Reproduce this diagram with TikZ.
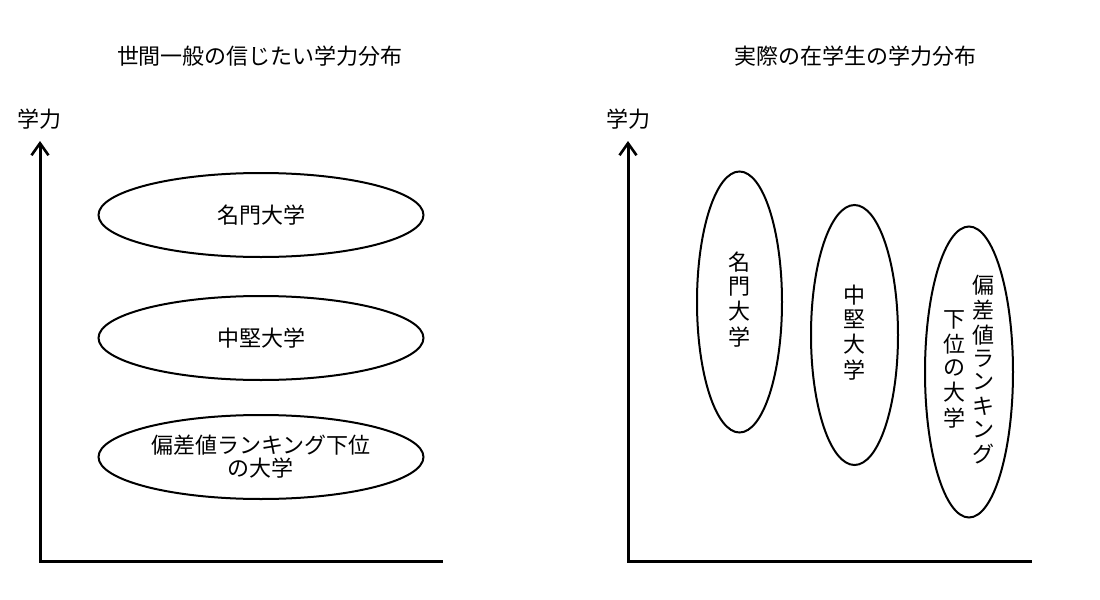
\documentclass[tikz,border=0pt]{standalone}
\usepackage{fontspec}
\setmainfont{Noto Sans CJK JP}
\usetikzlibrary{shapes.geometric}
\usetikzlibrary{arrows.meta}
\usetikzlibrary{positioning}

\newcommand{\tate}[1]{\begin{tabular}{@{}c@{}}#1\end{tabular}}

\begin{document}
\begin{tikzpicture}[x=0.5pt, y=-0.5pt,
  every node/.style={font=\fontsize{11}{11.4}\selectfont, inner sep=0pt},
  uni/.style={ellipse, draw, line width=1pt, minimum width=162.5pt, minimum height=42pt, align=center},
  tuni/.style={ellipse, draw, line width=1pt},
  axis/.style={line width=1.5pt, {Straight Barb[length=6pt, width=8.5pt, line width=1.3pt]}-}]
  \useasboundingbox (0,0) rectangle (1100,600);

  % left: the belief
  \node (ltitle) at (260,56) {世間一般の信じたい学力分布};
  \node (lylabel) at (40,119) {学力};
  \coordinate (ltop) at (40,141);
  \coordinate (lorigin) at (40,561);
  \coordinate (lend) at (443,561);
  \draw[axis] (ltop) -- (lorigin) -- (lend);
  \node[uni] (ltop1) at (261,215) {名門大学};
  \node[uni] (lmid) at (261,338) {中堅大学};
  \node[uni] (llow) at (261,457) {偏差値ランキング下位\\の大学};

  % right: the reality
  \node (rtitle) at (855,56) {実際の在学生の学力分布};
  \node (rylabel) at (628,119) {学力};
  \coordinate (rtop) at (628,141);
  \coordinate (rorigin) at (628,561);
  \coordinate (rend) at (1032,561);
  \draw[axis] (rtop) -- (rorigin) -- (rend);
  \node[tuni, minimum width=42.5pt, minimum height=130.5pt] (rtop1) at (739.5,302) {\tate{名\\門\\大\\学}};
  \node[tuni, minimum width=43.5pt, minimum height=130pt] (rmid) at (854.5,335) {\tate{中\\堅\\大\\学}};
  \node[tuni, minimum width=44pt, minimum height=145.5pt] (rlow) at (969,372)
    {\tate{下\\位\\の\\大\\学}\hspace{3.5pt}\tate{偏\\差\\値\\ラ\\ン\\キ\\ン\\グ}};
\end{tikzpicture}
\end{document}
